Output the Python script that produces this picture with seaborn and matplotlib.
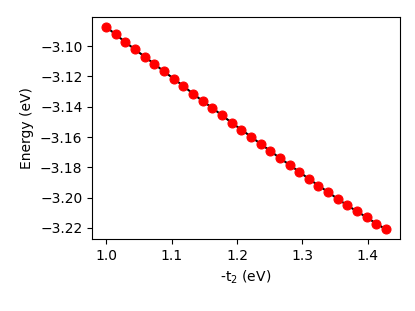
import numpy as np
import pandas as pd
import seaborn as sns
import matplotlib
matplotlib.use("Agg")
import matplotlib.pyplot as plt

# -t2 values (eV), 30 evenly spaced points
t2 = np.linspace(1.0, 1.428, 30)
# energies (eV)
energy = [-3.0873, -3.0923, -3.0974, -3.1022, -3.1070, -3.1118, -3.1167, -3.1215,
          -3.1263, -3.1314, -3.1362, -3.1408, -3.1456, -3.1505, -3.1551, -3.1597,
          -3.1645, -3.1691, -3.1739, -3.1783, -3.1829, -3.1876, -3.1920, -3.1963,
          -3.2009, -3.2051, -3.2091, -3.2130, -3.2172, -3.2209]

df = pd.DataFrame({'t2': t2, 'energy': energy})

fig = plt.figure(figsize=(4.15, 3.11), dpi=100)
ax = fig.add_axes([0.222, 0.230, 0.742, 0.716])
sns.lineplot(data=df, x='t2', y='energy', ax=ax, color='black', linewidth=1.5,
             marker='o', markersize=6.5, markerfacecolor='red', markeredgecolor='red')
ax.set_xlabel('-t$_2$ (eV)')
ax.set_ylabel('Energy (eV)')
ax.set_yticks([-3.10, -3.12, -3.14, -3.16, -3.18, -3.20, -3.22])

fig.savefig('out.png', dpi=100)
